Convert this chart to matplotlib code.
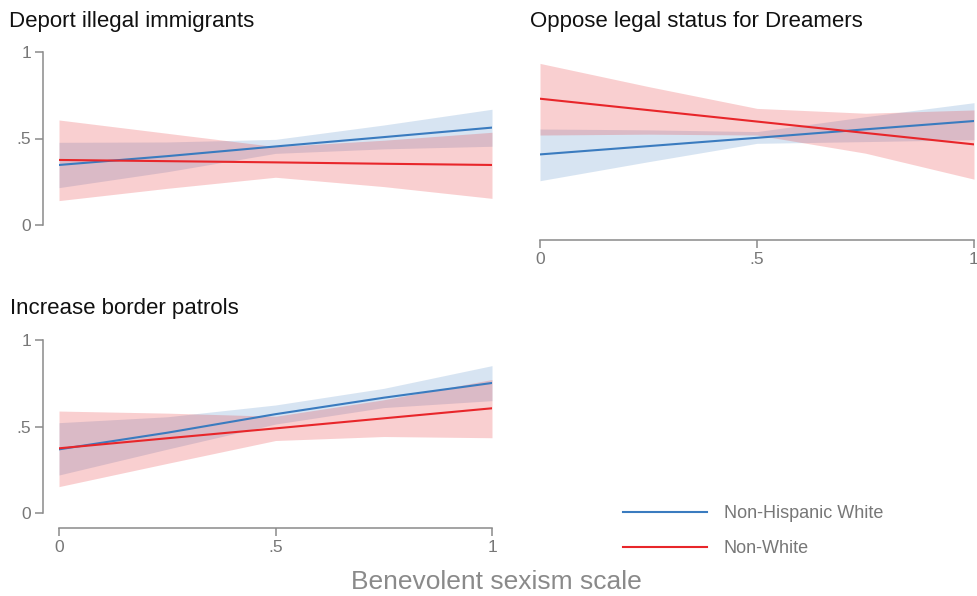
import numpy as np
import matplotlib
matplotlib.use("Agg")
import matplotlib.pyplot as plt
from matplotlib.lines import Line2D

plt.rcParams['font.family'] = ['Liberation Sans', 'DejaVu Sans']

# benevolent sexism scale values where margins were computed
bs = [0, 0.25, 0.5, 0.75, 1]

# Deport illegal immigrants
dep_nhw = [0.347, 0.398, 0.454, 0.508, 0.563]
dep_nhw_lo = [0.216, 0.308, 0.414, 0.440, 0.455]
dep_nhw_hi = [0.478, 0.480, 0.495, 0.578, 0.669]
dep_nw = [0.376, 0.369, 0.362, 0.354, 0.347]
dep_nw_lo = [0.141, 0.212, 0.276, 0.222, 0.154]
dep_nw_hi = [0.607, 0.530, 0.453, 0.490, 0.536]

# Oppose legal status for Dreamers
dre_nhw = [0.408, 0.456, 0.504, 0.553, 0.601]
dre_nhw_lo = [0.256, 0.366, 0.472, 0.482, 0.493]
dre_nhw_hi = [0.555, 0.550, 0.540, 0.626, 0.707]
dre_nw = [0.730, 0.664, 0.598, 0.532, 0.466]
dre_nw_lo = [0.520, 0.525, 0.520, 0.415, 0.265]
dre_nw_hi = [0.934, 0.800, 0.674, 0.646, 0.665]

# Increase border patrols
bor_nhw = [0.369, 0.465, 0.572, 0.667, 0.752]
bor_nhw_lo = [0.221, 0.370, 0.515, 0.610, 0.650]
bor_nhw_hi = [0.523, 0.557, 0.625, 0.721, 0.852]
bor_nw = [0.375, 0.433, 0.490, 0.548, 0.606]
bor_nw_lo = [0.154, 0.288, 0.420, 0.443, 0.436]
bor_nw_hi = [0.590, 0.578, 0.560, 0.655, 0.772]

titles = ['Deport illegal immigrants', 'Oppose legal status for Dreamers',
          'Increase border patrols']
ticks = [0, 0.5, 1]
ticklabels = ['0', '.5', '1']

blue = '#3a7bbf'
red = '#e8262a'
grey = '#8a8a8a'

fig = plt.figure(figsize=(9.77, 5.96), dpi=100)
W, H = 977, 596


def make_ax(x0, x1, y0, y1):
    return fig.add_axes([x0 / W, (H - y0) / H, (x1 - x0) / W, (y0 - y1) / H])


ax1 = make_ax(59, 492, 225, 52)
ax2 = make_ax(540, 974, 225, 52)
ax3 = make_ax(59, 492, 513.3, 340)

panels = [
    (ax1, dep_nhw, dep_nhw_lo, dep_nhw_hi, dep_nw, dep_nw_lo, dep_nw_hi),
    (ax2, dre_nhw, dre_nhw_lo, dre_nhw_hi, dre_nw, dre_nw_lo, dre_nw_hi),
    (ax3, bor_nhw, bor_nhw_lo, bor_nhw_hi, bor_nw, bor_nw_lo, bor_nw_hi),
]
# title positions (left edge, baseline) in pixels
title_pos = [(9, 27), (530, 27), (10, 314)]

for i, (ax, a, alo, ahi, b, blo, bhi) in enumerate(panels):
    ax.fill_between(bs, alo, ahi, color=blue, alpha=0.2, lw=0)
    ax.fill_between(bs, blo, bhi, color=red, alpha=0.22, lw=0)
    ax.plot(bs, a, color=blue, lw=1.5)
    ax.plot(bs, b, color=red, lw=1.5)
    ax.set_xlim(0, 1)
    ax.set_ylim(0, 1)
    ax.patch.set_visible(False)
    for s in ['top', 'right']:
        ax.spines[s].set_visible(False)
    ax.spines['left'].set_position(('outward', 11.5))
    ax.spines['bottom'].set_position(('outward', 10.8))
    for s in ['left', 'bottom']:
        ax.spines[s].set_color(grey)
        ax.spines[s].set_linewidth(1.1)
    ax.tick_params(colors=grey, labelcolor='#777777', labelsize=12.5,
                   length=5.5, width=1.1, pad=3)
    ax.set_xticks(ticks, ticklabels)
    ax.set_yticks(ticks, ticklabels)
    tx, ty = title_pos[i]
    fig.text(tx / W, (H - ty) / H, titles[i], fontsize=16, color='#111111',
             ha='left', va='baseline')

# top-left shares its x axis with the panel below
ax1.spines['bottom'].set_visible(False)
ax1.tick_params(axis='x', bottom=False, labelbottom=False)
# top-right shares its y axis with the panel to its left
ax2.spines['left'].set_visible(False)
ax2.tick_params(axis='y', left=False, labelleft=False)

fig.text(496 / W, (H - 582) / H, 'Benevolent sexism scale', fontsize=19,
         color=grey, ha='center', va='center')

handles = [Line2D([], [], color=blue, lw=1.5), Line2D([], [], color=red, lw=1.5)]
fig.legend(handles, ['Non-Hispanic White', 'Non-White'], loc='center left',
           bbox_to_anchor=(623 / W, (H - 531) / H), frameon=False,
           fontsize=13, labelcolor='#777777', handlelength=4.65,
           handletextpad=0.94, labelspacing=1.0, borderpad=0, borderaxespad=0)

fig.savefig('out.png', dpi=100)
